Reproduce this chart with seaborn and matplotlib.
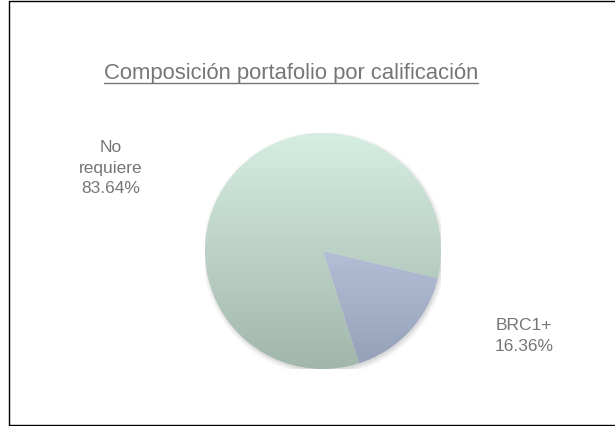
import numpy as np
import matplotlib
matplotlib.use("Agg")
import matplotlib.pyplot as plt
from matplotlib.lines import Line2D
import seaborn as sns

# datos del portafolio
categorias = ["BRC1+", "No requiere"]
porcentajes = [16.36, 83.64]
etiquetas = ["BRC1+\n16.36%", "No\nrequiere\n83.64%"]
titulo = "Composición portafolio por calificación"

# degradados (arriba -> abajo) de cada porcion
degradados = [["#d2ddf5", "#949fb8"], ["#d6ede1", "#a2b7ac"]]

sns.set_theme(style="white")
plt.rcParams["font.family"] = ["Liberation Sans", "DejaVu Sans"]

fig = plt.figure(figsize=(6.15, 4.27), dpi=100)
W, H = 615, 427

# marco del grafico (recortado por la derecha)
for xs, ys in [([8.5, 615], [1.5, 1.5]), ([8.5, 8.5], [1.5, 425.5]), ([8.5, 615], [425.5, 425.5])]:
    fig.add_artist(Line2D([x / W for x in xs], [1 - y / H for y in ys], color="black", lw=1.0))

# ejes de la torta: centro (323, 252), radio 118 px
cx, cy, r = 323, 252, 118
ax = fig.add_axes([(cx - r) / W, (H - cy - r) / H, 2 * r / W, 2 * r / H])

# sombra suave
for k, a in enumerate([0.05, 0.04, 0.03, 0.02]):
    ax.add_patch(plt.Circle((0.01, -0.02), 1.0 + 0.012 * k, color="black", alpha=a, lw=0, zorder=0))

wedges, _ = ax.pie(porcentajes, startangle=-72.2, counterclock=True, radius=1.0,
                   wedgeprops=dict(linewidth=0, edgecolor="none"))

grad = np.linspace(0, 1, 256).reshape(-1, 1)
for w, cols in zip(wedges, degradados):
    w.set_facecolor("none")
    cmap = sns.blend_palette(cols, as_cmap=True)
    im = ax.imshow(grad, cmap=cmap, extent=(-1, 1, -1, 1), origin="upper", aspect="auto", zorder=1)
    im.set_clip_path(w)

ax.set_xlim(-1, 1)
ax.set_ylim(-1, 1)
ax.axis("off")

gris = "#767676"
# etiquetas de datos
ax.text(-212 / r, 84 / r, etiquetas[1], ha="center", va="center", fontsize=12.5, color=gris,
        linespacing=1.45, clip_on=False)
ax.text(201 / r, -84 / r, etiquetas[0], ha="center", va="center", fontsize=12.5, color=gris,
        linespacing=1.45, clip_on=False)

# titulo subrayado
t = fig.text(291 / W, 1 - 74 / H, titulo, ha="center", va="center", fontsize=15.8, color=gris)
fig.canvas.draw()
bb = t.get_window_extent()
uy = 1 - 83.5 / H
fig.add_artist(Line2D([bb.x0 / W, bb.x1 / W], [uy, uy], color=gris, lw=1.0))

fig.savefig("out.png", dpi=100)
